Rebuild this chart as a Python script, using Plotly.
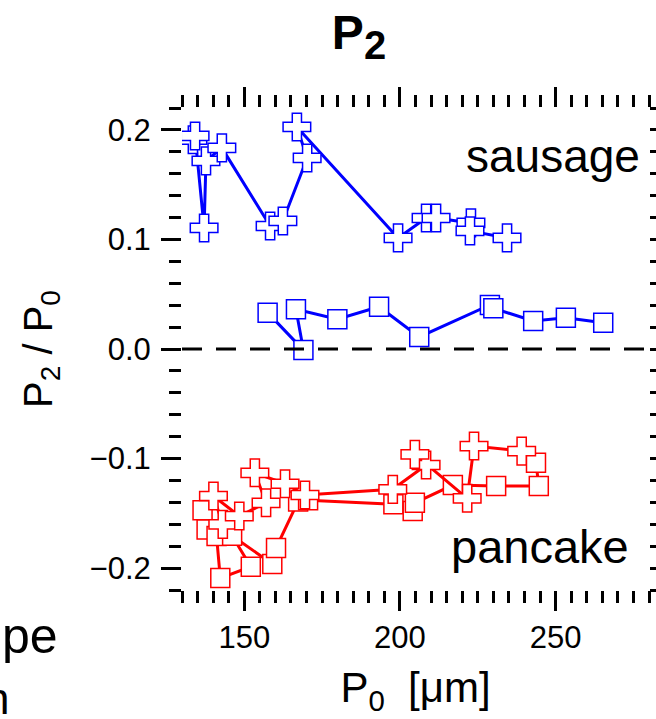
import plotly.graph_objects as go

# Sausage-like deformation (P2 > 0)
saus_cross_x = [133.5, 134.2, 137.1, 137.7, 142.8, 158.3, 162.4, 170.2, 166.9,
                199.4, 208.4, 211.6, 222.8, 222.5, 234.4]
saus_cross_y = [0.191, 0.1945, 0.1105, 0.1717, 0.1836, 0.1123, 0.1169, 0.1744, 0.2027,
                0.1014, 0.1196, 0.1196, 0.1151, 0.1078, 0.1014]

saus_sq_x = [157.5, 169.0, 166.6, 179.9, 193.3, 206.2, 228.9, 230.0, 242.8, 253.3, 265.3]
saus_sq_y = [0.0332, -0.001, 0.0363, 0.0271, 0.0386, 0.011, 0.0402, 0.0372, 0.0256, 0.0286, 0.024]

# Pancake-like deformation (P2 < 0)
panc_sq_x = [136.6, 137.9, 141.1, 142.3, 152.1, 146.1, 159.0, 160.2, 167.3, 170.5,
             197.9, 204.1, 204.8, 217.0, 230.9, 244.6, 243.7]
panc_sq_y = [-0.1473, -0.1647, -0.1708, -0.2091, -0.1988, -0.1705, -0.1962, -0.1817, -0.1391, -0.1381,
             -0.1418, -0.1479, -0.1404, -0.1242, -0.1251, -0.1251, -0.1038]

panc_cross_x = [143.1, 140.1, 148.4, 157.0, 153.4, 163.1, 169.5, 197.7, 208.4, 204.8,
                221.6, 223.8, 239.1]
panc_cross_y = [-0.1601, -0.1342, -0.1525, -0.1404, -0.1130, -0.1230, -0.1333, -0.1281, -0.1059, -0.0962,
                -0.1363, -0.0886, -0.0932]

BLUE = "rgb(0,0,255)"
RED = "rgb(255,0,0)"
FONT = "Liberation Sans, Arial, Helvetica, sans-serif"

fig = go.Figure()


def add_series(x, y, color, symbol, size):
    fig.add_trace(go.Scatter(
        x=x, y=y, mode="lines+markers",
        line=dict(color=color, width=3),
        marker=dict(symbol=symbol, size=size, color="white",
                    line=dict(color=color, width=1.5)),
        showlegend=False, hoverinfo="skip",
    ))


add_series(saus_sq_x, saus_sq_y, BLUE, "square", 19)
add_series(saus_cross_x, saus_cross_y, BLUE, "cross", 23)
add_series(panc_sq_x, panc_sq_y, RED, "square", 19)
add_series(panc_cross_x, panc_cross_y, RED, "cross", 23)

# dashed zero reference
fig.add_shape(type="line", xref="x", yref="y", x0=130, x1=280, y0=0, y1=0,
              line=dict(color="black", width=3, dash="20px,14px"), layer="above")

tick_common = dict(ticks="outside", tickwidth=3, tickcolor="black", ticklen=20,
                   mirror="ticks", showline=False, showgrid=False, zeroline=False,
                   tickfont=dict(family=FONT, size=31, color="black"))

fig.update_xaxes(range=[130, 280], tick0=0, dtick=50,
                 minor=dict(dtick=5, tick0=0, ticks="outside", ticklen=12, tickwidth=3,
                            tickcolor="black", showgrid=False),
                 title=dict(text="P<sub>0</sub>\u00a0\u00a0[μm]",
                            font=dict(family=FONT, size=42, color="black"), standoff=18),
                 **tick_common)
fig.update_yaxes(range=[-0.22, 0.22], tick0=0, dtick=0.1, tickformat=".1f",
                 ticklabelstandoff=4,
                 minor=dict(dtick=0.02, tick0=0, ticks="outside", ticklen=12, tickwidth=3,
                            tickcolor="black", showgrid=False),
                 title=dict(text="P<sub>2</sub> / P<sub>0</sub>",
                            font=dict(family=FONT, size=40, color="black"), standoff=24),
                 **tick_common)

fig.add_annotation(text="sausage", xref="paper", yref="paper", x=0.985, y=0.9,
                   xanchor="right", yanchor="middle", showarrow=False,
                   font=dict(family=FONT, size=46, color="black"))
fig.add_annotation(text="pancake", xref="paper", yref="paper", x=0.962, y=0.09,
                   xanchor="right", yanchor="middle", showarrow=False,
                   font=dict(family=FONT, size=47, color="black"))

# fragments of neighbouring panel labels at the left edge
fig.add_annotation(text="pe", xref="paper", yref="paper", x=(60 - 182) / 467,
                   y=-0.095, xanchor="right", yanchor="middle", showarrow=False,
                   font=dict(family=FONT, size=50, color="black"))
fig.add_annotation(text="n", xref="paper", yref="paper", x=(11 - 182) / 467,
                   y=-0.225, xanchor="right", yanchor="middle", showarrow=False,
                   font=dict(family=FONT, size=44, color="black"))

fig.update_layout(
    width=656, height=719,
    margin=dict(l=182, r=7, t=108, b=129),
    paper_bgcolor="white", plot_bgcolor="white",
    title=dict(text="<b>P<sub><span style='font-size:40px'>2</span></sub></b>",
               xref="container", x=359 / 656, xanchor="center",
               yref="container", y=1 - 32 / 719, yanchor="middle",
               font=dict(family=FONT, size=48, color="black")),
)

fig.write_html("out.html")
